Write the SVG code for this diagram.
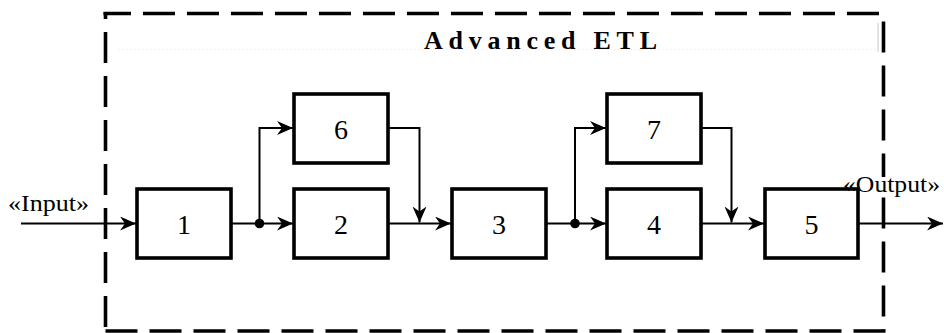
<svg xmlns="http://www.w3.org/2000/svg" width="944" height="333" viewBox="0 0 944 333">
  <defs>
    <marker id="arrow" markerUnits="userSpaceOnUse" markerWidth="17" markerHeight="15" refX="16" refY="7" orient="auto">
      <path d="M0,0 L16,7 L0,14 L5,7 z" fill="#000"/>
    </marker>
    <style>
      .frame { stroke: #000; stroke-width: 3.6; fill: none; }
      .box { fill: #fff; stroke: #000; stroke-width: 3.6; }
      .wire { fill: none; stroke: #000; stroke-width: 2; }
      .arr { marker-end: url(#arrow); }
      .num { font-family: "Liberation Serif", "Times New Roman", serif; font-size: 28px; text-anchor: middle; fill: #000; }
      .lbl { font-family: "Liberation Serif", "Times New Roman", serif; font-size: 23px; fill: #000; }
      .title { font-family: "Liberation Serif", "Times New Roman", serif; font-size: 26px; font-weight: bold; fill: #000; }
      .dot { fill: #000; }
    </style>
  </defs>
  <rect width="944" height="333" fill="#fff"/>

  <!-- dashed boundary of the ETL block -->
  <g id="boundary">
    <line class="frame" x1="103.5" y1="13.5" x2="880" y2="13.5" stroke-dasharray="32 12" stroke-dashoffset="4.5"/>
    <line class="frame" x1="105.5" y1="12" x2="105.5" y2="331" stroke-dasharray="31 13" stroke-dashoffset="24"/>
    <line class="frame" x1="105.5" y1="331" x2="885.5" y2="331" stroke-dasharray="32 12"/>
    <line class="frame" x1="883.5" y1="21.5" x2="883.5" y2="331" stroke-dasharray="31 13"/>
    <!-- faint title frame remnants -->
    <line x1="118" y1="49.5" x2="878" y2="49.5" stroke="#f2f2f2" stroke-width="1" stroke-dasharray="2 2"/>
    <line x1="878" y1="23" x2="878" y2="52" stroke="#e4e4e4" stroke-width="2"/>
    <text class="title" x="424" y="49" textLength="233" lengthAdjust="spacing">Advanced ETL</text>
  </g>

  <!-- connectors -->
  <g id="connectors">
    <line class="wire arr" x1="21" y1="223.5" x2="136" y2="223.5"/>
    <line class="wire arr" x1="231" y1="223.5" x2="293" y2="223.5"/>
    <polyline class="wire arr" points="259.5,223.5 259.5,128 293,128"/>
    <polyline class="wire arr" points="388,128 419.5,128 419.5,222.5"/>
    <line class="wire arr" x1="388" y1="223.5" x2="451" y2="223.5"/>
    <line class="wire arr" x1="546" y1="223.5" x2="606" y2="223.5"/>
    <polyline class="wire arr" points="575,223.5 575,128 606,128"/>
    <polyline class="wire arr" points="701,128 731.5,128 731.5,222.5"/>
    <line class="wire arr" x1="701" y1="223.5" x2="764" y2="223.5"/>
    <line class="wire arr" x1="858" y1="223.5" x2="943" y2="223.5"/>
    <circle class="dot" cx="259.5" cy="223.5" r="4.8"/>
    <circle class="dot" cx="575" cy="223.5" r="4.8"/>
  </g>

  <g id="node1"><rect class="box" x="137" y="189" width="94" height="69"/><text class="num" x="184" y="233.5">1</text></g>
  <g id="node2"><rect class="box" x="294" y="189" width="94" height="69"/><text class="num" x="341" y="233.5">2</text></g>
  <g id="node6"><rect class="box" x="294" y="94" width="94" height="69"/><text class="num" x="341" y="138.5">6</text></g>
  <g id="node3"><rect class="box" x="452" y="189" width="94" height="69"/><text class="num" x="499" y="233.5">3</text></g>
  <g id="node7"><rect class="box" x="607" y="94" width="94" height="69"/><text class="num" x="654" y="138.5">7</text></g>
  <g id="node4"><rect class="box" x="607" y="189" width="94" height="69"/><text class="num" x="654" y="233.5">4</text></g>
  <g id="node5"><rect class="box" x="765" y="189" width="93" height="69"/><text class="num" x="811.5" y="233.5">5</text></g>

  <g id="input-label">
    <text class="lbl" x="8" y="211" textLength="81" lengthAdjust="spacingAndGlyphs">«Input»</text>
  </g>
  <g id="output-label">
    <rect x="842" y="177" width="98" height="10" fill="#fff"/>
    <text class="lbl" x="843" y="192" textLength="97" lengthAdjust="spacingAndGlyphs">«Output»</text>
  </g>
</svg>
